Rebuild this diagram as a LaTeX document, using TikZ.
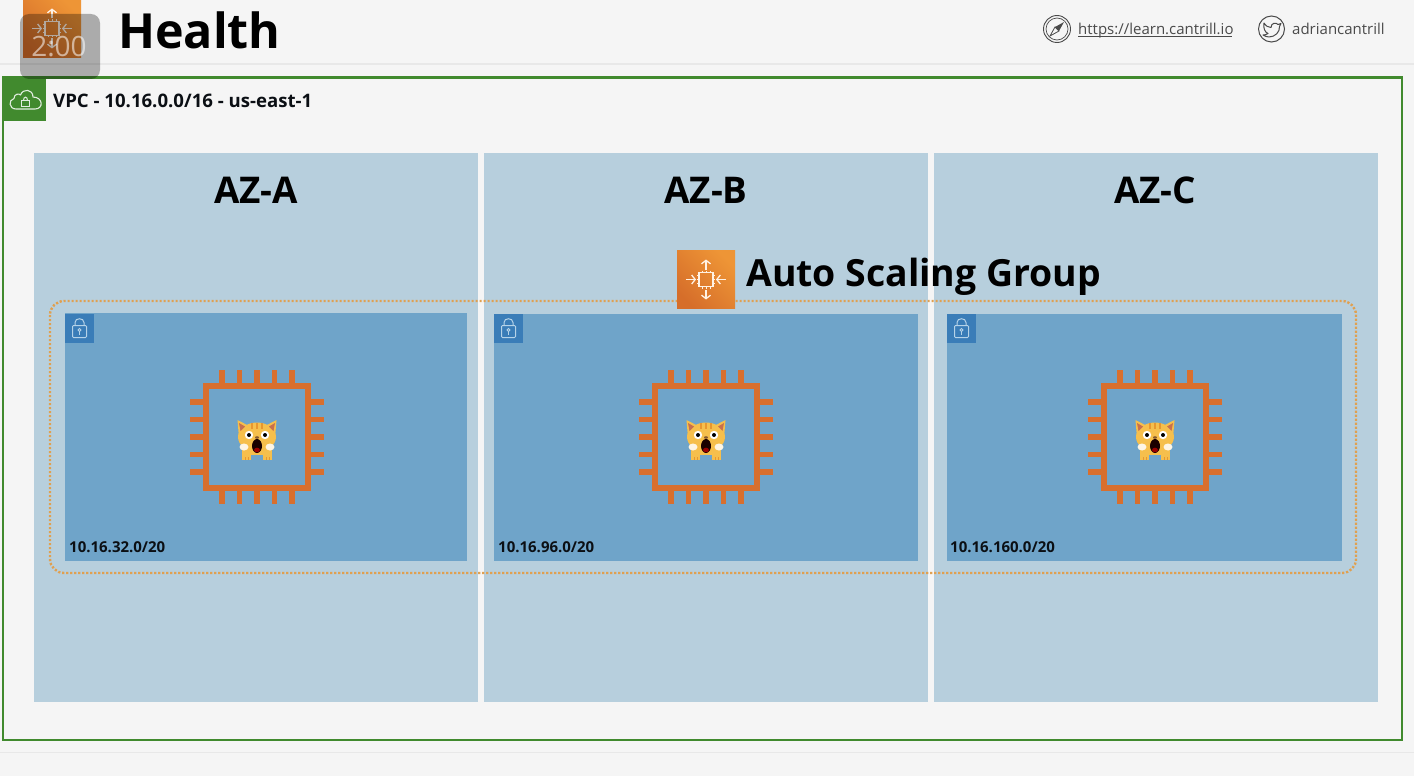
\documentclass[tikz,border=0pt]{standalone}
\usepackage{fontspec}
\setmainfont{Open Sans}
\usetikzlibrary{arrows.meta}
\definecolor{bgc}{HTML}{F5F5F5}
\definecolor{rulec}{HTML}{E8E8E8}
\definecolor{vpcg}{HTML}{418A2E}
\definecolor{azc}{HTML}{B7CFDD}
\definecolor{subc}{HTML}{6FA4C9}
\definecolor{lockc}{HTML}{3A7DB8}
\definecolor{lockl}{HTML}{B5D3E8}
\definecolor{chipc}{HTML}{D86F2E}
\definecolor{dotc}{HTML}{E0A050}
\definecolor{catc}{HTML}{F6BF4C}
\definecolor{catd}{HTML}{E8972F}
\definecolor{inkc}{HTML}{0B0F14}
\definecolor{greyt}{HTML}{4A4A4A}
\definecolor{asgd}{HTML}{D66E2A}
\definecolor{asgl}{HTML}{EE9536}
\definecolor{earc}{HTML}{C8704E}
\tikzset{
  x=1pt,y=-1pt,
  azbox/.style={fill=azc,draw=none},
  subbox/.style={fill=subc,draw=none},
  azlabel/.style={font=\fontsize{36.8}{37}\selectfont\bfseries,text=black,inner sep=0pt},
  sublabel/.style={font=\fontsize{15}{15}\selectfont\bfseries,text=inkc,inner sep=0pt,anchor=west},
  headlink/.style={font=\fontsize{15}{15}\selectfont,text=greyt,inner sep=0pt,anchor=base west},
  pinline/.style={draw=chipc,line width=5.5pt},
  pics/chip/.style={code={
    \draw[chipc,line width=5.5pt] (-51,-51) rectangle (51,51);
    \foreach \p in {-35,-17.5,0,17.5,35}{
      \draw[pinline] (\p,-67) -- (\p,-53);
      \draw[pinline] (\p,53) -- (\p,67);
      \draw[pinline] (-67,\p) -- (-53,\p);
      \draw[pinline] (53,\p) -- (67,\p);
    }
    % cat
    \begin{scope}[shift={(0,3)}]
      \fill[catc] (-15,4) rectangle (-6,20);
      \fill[catc] (6,4) rectangle (15,20);
      \fill[catc] (-10,4) rectangle (10,15);
      \fill[catc] (-19.5,-20) -- (-6,-13) -- (-18,-2) -- cycle;
      \fill[catc] (19.5,-20) -- (6,-13) -- (18,-2) -- cycle;
      \fill[catc] (0,-3) ellipse [x radius=19,y radius=14.5];
      \fill[earc] (-18,-17) -- (-12,-13.5) -- (-16.5,-9) -- cycle;
      \fill[earc] (18,-17) -- (12,-13.5) -- (16.5,-9) -- cycle;
      \foreach \s in {-5,0,5}{\draw[catd,line width=1.4pt] (\s,-17) -- (\s,-11);}
      \foreach \s in {-12,-9,9,12}{\draw[catd,line width=1pt] (\s,17) -- (\s,20);}
      \fill[white] (-8,-5) circle (4.2);
      \fill[white] (8,-5) circle (4.2);
      \fill[black] (-8,-5) circle (2);
      \fill[black] (8,-5) circle (2);
      \fill[brown!70!black] (0,-2.5) ellipse [x radius=2,y radius=1.3];
      \fill[black!90!red] (0,6) ellipse [x radius=5,y radius=7];
      \fill[red!60!black] (0,10) ellipse [x radius=3,y radius=2.3];
      \fill[white!85!catc] (-13,7) ellipse [x radius=4.5,y radius=3.5];
      \fill[white!85!catc] (13,7) ellipse [x radius=4.5,y radius=3.5];
    \end{scope}
  }},
  pics/asgicon/.style={code={
    \shade[left color=asgd,right color=asgl,shading angle=135] (-29,-29) rectangle (29,29);
    \draw[white!90!orange,line width=1.3pt] (-7,-7) rectangle (7,7);
    \foreach \p in {-4,0,4}{
      \draw[white!90!orange,line width=.7pt] (\p,-9) -- (\p,-7) (\p,7) -- (\p,9) (-9,\p) -- (-7,\p) (7,\p) -- (9,\p);
    }
    \draw[white!90!orange,line width=1.3pt,-{Straight Barb[length=3.5pt,width=9pt]}] (0,-10) -- (0,-20);
    \draw[white!90!orange,line width=1.3pt,-{Straight Barb[length=3.5pt,width=9pt]}] (0,10) -- (0,20);
    \draw[white!90!orange,line width=1.3pt,-{Straight Barb[length=3.5pt,width=9pt]}] (-20,0) -- (-10,0);
    \draw[white!90!orange,line width=1.3pt,-{Straight Barb[length=3.5pt,width=9pt]}] (20,0) -- (10,0);
  }},
  pics/lockicon/.style={code={
    \fill[lockc] (-14.5,-14.5) rectangle (14.5,14.5);
    \draw[lockl,line width=1pt,rounded corners=1pt] (-7,-3) rectangle (7,9);
    \draw[lockl,line width=1pt] (-4.5,-3) -- (-4.5,-6) .. controls (-4.5,-11) and (4.5,-11) .. (4.5,-6) -- (4.5,-3);
    \draw[lockl,line width=.9pt] (0,1.5) circle (1.6);
    \draw[lockl,line width=.9pt] (0,3) -- (0,6.5);
  }}
}
\begin{document}
\begin{tikzpicture}
\useasboundingbox (0,0) rectangle (1414,776);
\fill[bgc] (0,0) rectangle (1414,776);
\fill[rulec] (0,63.5) rectangle (1414,65);
\fill[rulec] (0,751.5) rectangle (1414,753);

% header
\pic at (52,28.5) {asgicon};
\node[font=\fontsize{48.4}{49}\selectfont\bfseries,text=black,inner sep=0pt,anchor=west] (title) at (118,30) {Health};

% compass
\draw[greyt,line width=.9pt] (1057,29) circle (13.5);
\draw[greyt,line width=.7pt] (1057,29) circle (11);
\fill[greyt] (1064,22) -- (1059,31) -- (1055,27) -- cycle;
\draw[greyt,line width=.8pt] (1050,36) -- (1059,31) -- (1055,27) -- cycle;
\node[headlink] (linktext) at (1078,34.5) {https://learn.cantrill.io};
\draw[greyt,line width=.8pt] (linktext.base west) ++(0,2.2) -- ++(154,0);

% twitter
\draw[greyt,line width=1pt] (1271.5,29) circle (13);
\draw[greyt,line width=1pt,line join=round] (1264,23) .. controls (1266,26) and (1268,27.5) .. (1271,27.5)
  .. controls (1271,23) and (1276,22) .. (1278,24.5) -- (1281,23.5) -- (1279.5,26.5)
  .. controls (1280,32) and (1275,37) .. (1269,37) .. controls (1266.5,37) and (1264.5,36) .. (1263,35)
  .. controls (1265,35) and (1267,34.5) .. (1268,33.5) .. controls (1265,32.5) and (1263,28) .. (1264,23) -- cycle;
\node[headlink] (handle) at (1292,34.5) {adriancantrill};

% VPC
\draw[vpcg,line width=2.6pt] (3,77.5) rectangle (1402,740);
\fill[vpcg] (4,79) rectangle (46,120.5);
\draw[white!85!vpcg,line width=1.1pt,line join=round] (16,109) .. controls (9,109) and (8,100) .. (14,98.5)
  .. controls (14,94) and (19,93) .. (20.5,95) .. controls (23,88) and (33,89) .. (33,97)
  .. controls (43,97) and (44,109) .. (35,109) -- cycle;
\draw[white!85!vpcg,line width=1pt] (21.5,100.5) rectangle (29.5,106);
\draw[white!85!vpcg,line width=1pt] (23.5,100.5) .. controls (23.5,96) and (27.5,96) .. (27.5,100.5);
\node[font=\fontsize{18.6}{19}\selectfont\bfseries,text=inkc,inner sep=0pt,anchor=west] (vpclabel) at (53,101) {VPC - 10.16.0.0/16 - us-east-1};

% AZ columns
\fill[azbox] (34,153) rectangle (478,702);
\fill[azbox] (484,153) rectangle (928,702);
\fill[azbox] (934,153) rectangle (1378,702);
\node[azlabel] (aza) at (256,190) {AZ-A};
\node[azlabel] (azb) at (706,190) {AZ-B};
\node[azlabel] (azc) at (1155,190) {AZ-C};

% ASG boundary
\draw[dotc,line width=2.4pt,dash pattern=on 2.2pt off 1.8pt,rounded corners=14pt] (50,301) rectangle (1356,573);

% subnets
\fill[subbox] (65,313) rectangle (467,561);
\fill[subbox] (494,314) rectangle (918,561);
\fill[subbox] (947,314) rectangle (1342,561);
\pic at (79.5,328.5) {lockicon};
\pic at (508.5,328.5) {lockicon};
\pic at (961.5,328.5) {lockicon};
\pic at (257,437) {chip};
\pic at (706,437) {chip};
\pic at (1155,437) {chip};
\node[sublabel] (suba) at (69,547.5) {10.16.32.0/20};
\node[sublabel] (subb) at (498,547.5) {10.16.96.0/20};
\node[sublabel] (subc) at (950,547.5) {10.16.160.0/20};

% ASG label
\pic at (706,279.5) {asgicon};
\node[font=\fontsize{37.4}{38}\selectfont\bfseries,text=black,inner sep=0pt,anchor=west] (asglabel) at (746,277) {Auto Scaling Group};

% timer overlay
\fill[black,opacity=.3,rounded corners=9pt] (20,14) rectangle (100,79);
\node[font=\fontsize{28}{28}\selectfont,text=white,opacity=.55,inner sep=0pt] (timer) at (59,47) {2:00};
\end{tikzpicture}
\end{document}
